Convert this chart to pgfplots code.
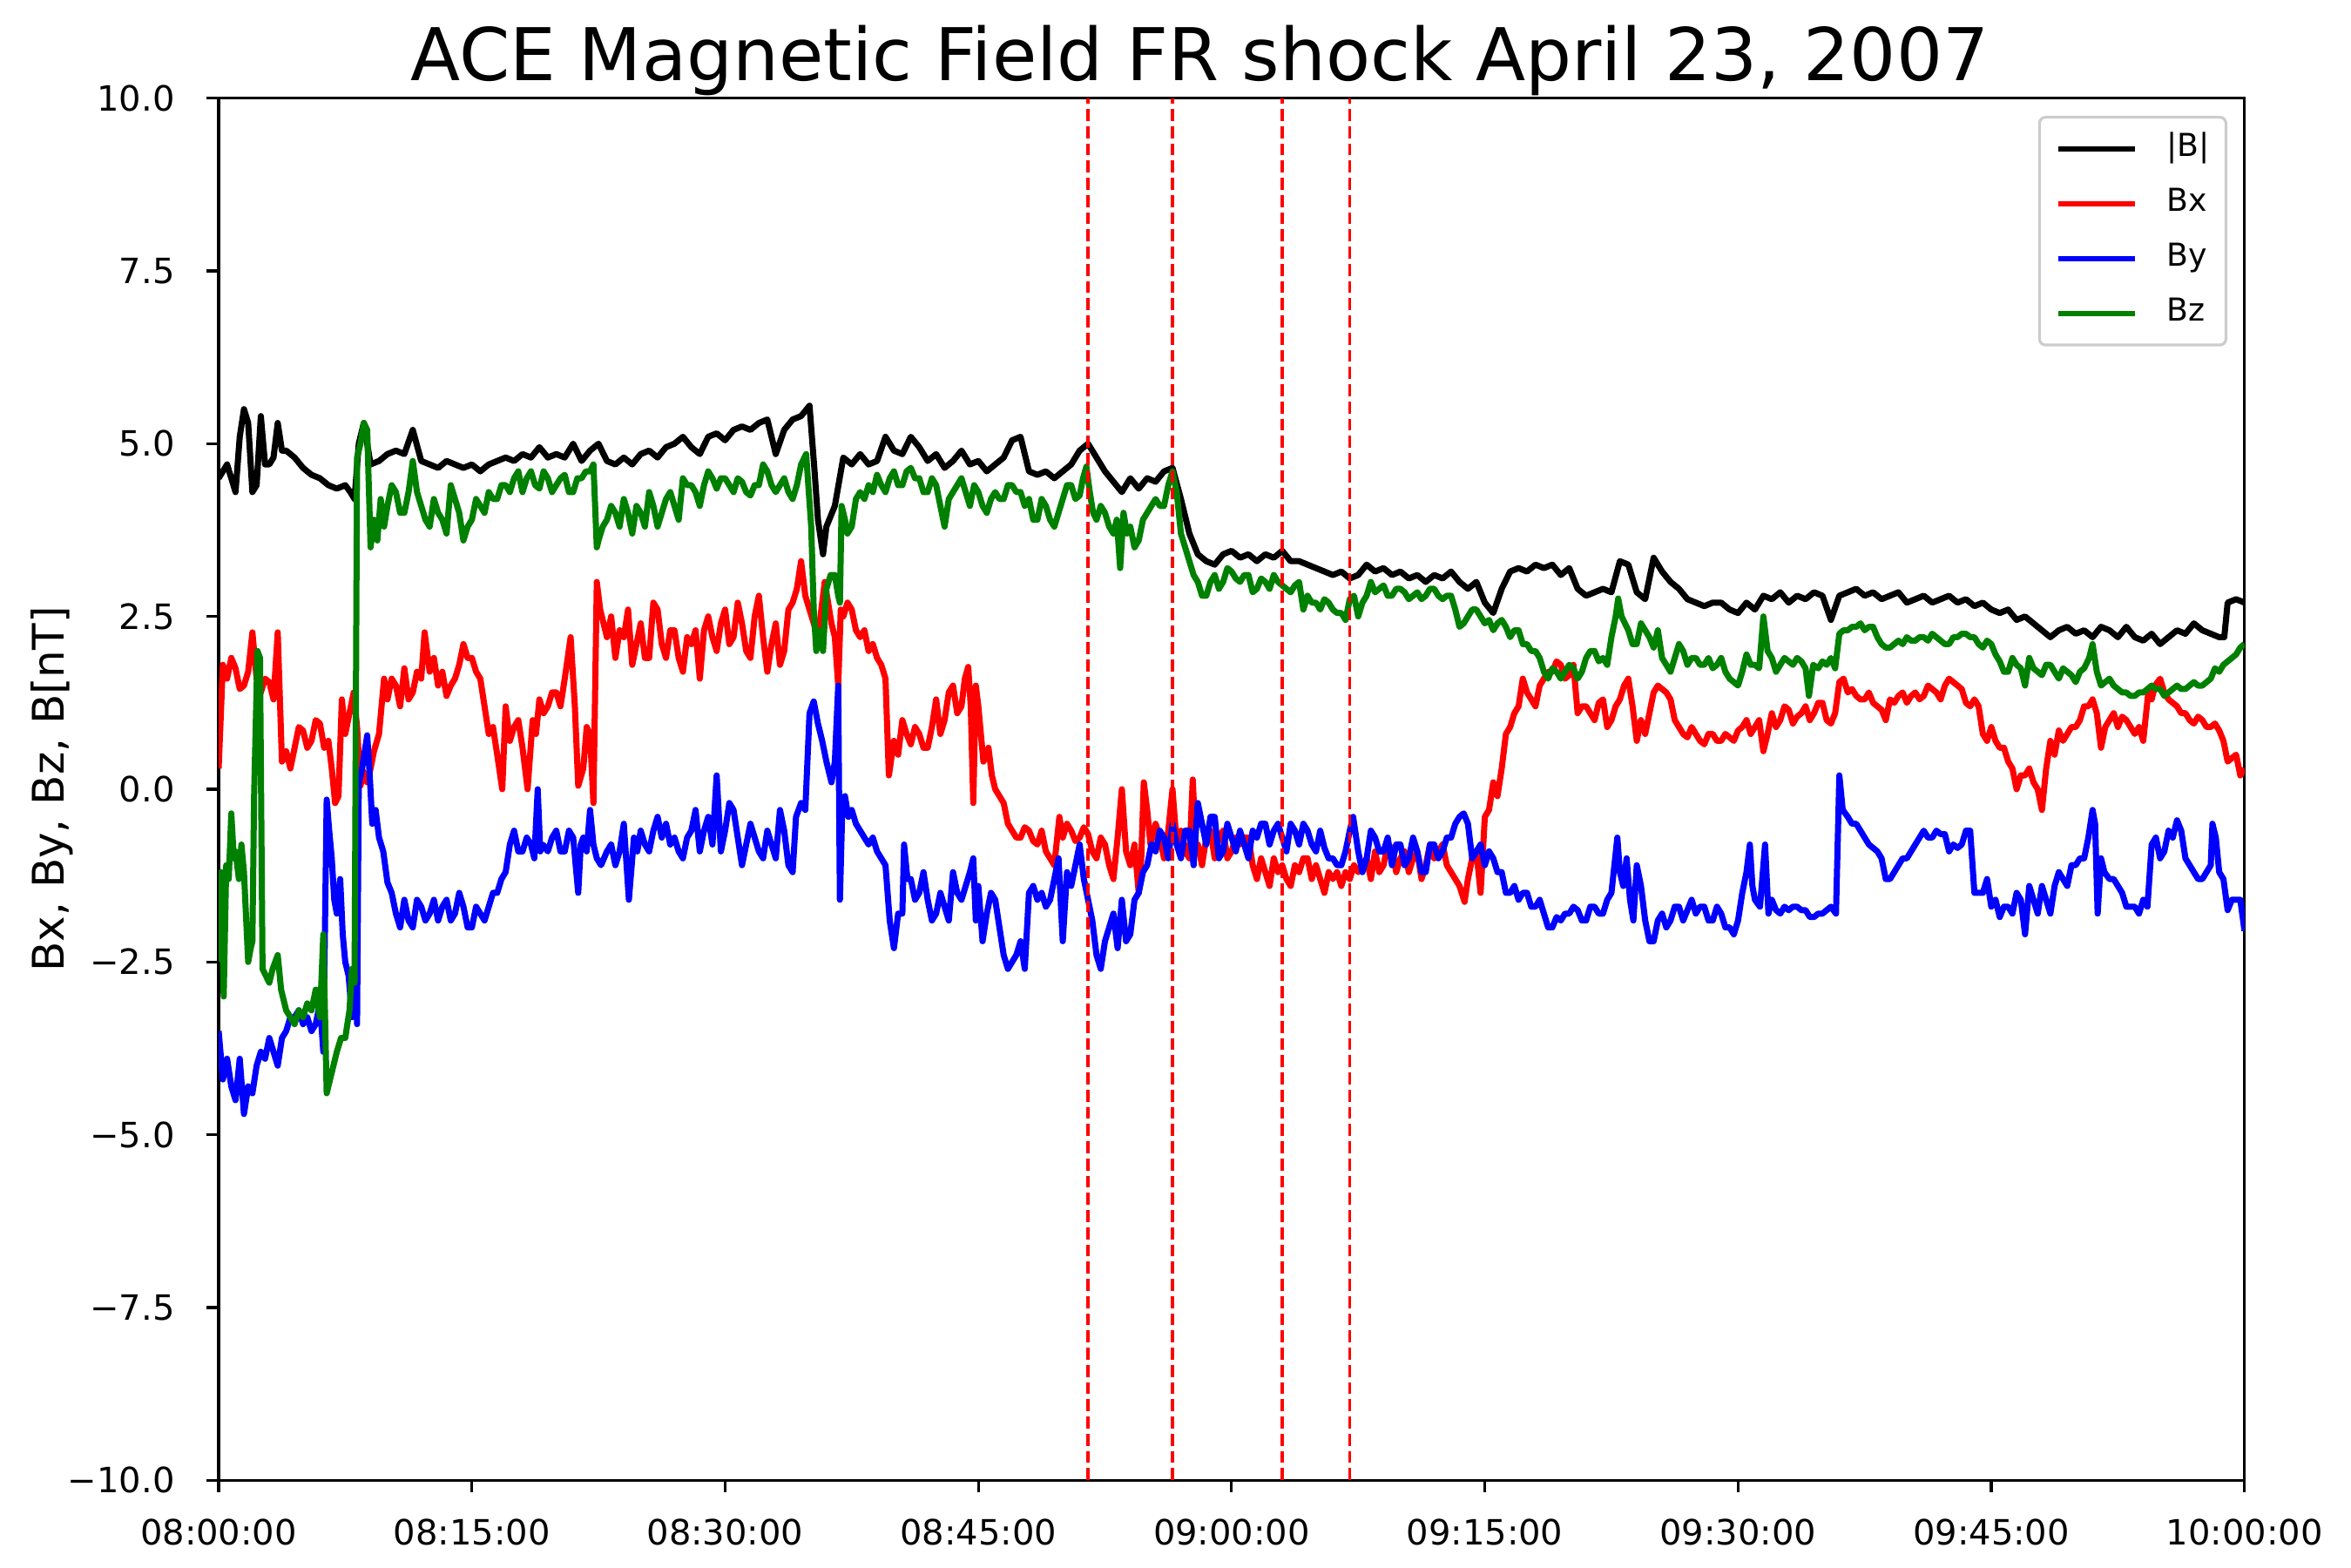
\documentclass[border=0pt]{standalone}
\usepackage{fontspec}
\setmainfont{DejaVu Sans}
\usepackage{pgfplots}
\pgfplotsset{compat=1.18}
\definecolor{mgreen}{HTML}{008000}
\begin{document}
\begin{tikzpicture}
\useasboundingbox (0,0) rectangle (1079.6pt,720pt);
\begin{axis}[name=ax, at={(100.4pt,40.3pt)}, anchor=south west,
  scale only axis, width=930.3pt, height=634.6pt,
  xmin=0, xmax=120, ymin=-10, ymax=10,
  xtick={0,15,30,45,60,75,90,105,120},
  xticklabels={08:00:00,08:15:00,08:30:00,08:45:00,09:00:00,09:15:00,09:30:00,09:45:00,10:00:00},
  ytick={-10,-7.5,-5,-2.5,0,2.5,5,7.5,10},
  yticklabels={−10.0,−7.5,−5.0,−2.5,0.0,2.5,5.0,7.5,10.0},
  tick pos=left, tick align=outside, major tick length=5.6pt,
  every tick/.style={black,line width=1.28pt},
  axis line style={line width=1.28pt},
  ticklabel style={font=\fontsize{16}{19}\selectfont, inner sep=0pt},
  xticklabel style={anchor=base, yshift=-24.3pt},
  yticklabel style={anchor=base east, xshift=-14.4pt, yshift=-5.8pt},
  legend cell align=left,
  legend image code/.code={\draw[#1, line width=2.4pt] (0pt,3.5pt) -- (35.3pt,3.5pt);},
  legend style={at={(1,1)}, anchor=north east, xshift=-7.9pt, yshift=-8.1pt,
    draw=black!20, line width=1.28pt, rounded corners=2.8pt, fill=white,
    font=\fontsize{14.5}{17}\selectfont, inner xsep=7.5pt, inner ysep=7pt,
    row sep=10.2pt, column sep=13.2pt,
    nodes={inner sep=0pt, text height=11pt, text depth=4pt, anchor=base west}},
  every axis plot/.append style={line width=2.8pt, line join=round},
]
\addplot[black] coordinates {(0,4.5)(0.5,4.7)(1,4.3)(1.25,5.1)(1.5,5.5)(1.75,5.3)(2,4.3)(2.25,4.4)(2.5,5.4)(2.75,4.7)(3,4.7)(3.25,4.8)(3.5,5.3)(3.75,4.9)(4,4.9)(4.5,4.8)(5,4.65)(5.5,4.55)(6,4.5)(6.5,4.4)(7,4.35)(7.5,4.4)(7.8,4.3)(8.05,4.2)(8.3,5.0)(8.6,5.3)(9,4.7)(9.5,4.75)(10,4.85)(10.5,4.9)(11,4.85)(11.5,5.2)(12,4.75)(12.5,4.7)(13,4.65)(13.5,4.75)(14,4.7)(14.5,4.65)(15,4.7)(15.5,4.6)(16,4.7)(16.5,4.75)(17,4.8)(17.5,4.75)(18,4.85)(18.5,4.8)(19,4.95)(19.5,4.8)(20,4.85)(20.5,4.8)(21,5.0)(21.5,4.75)(22,4.9)(22.5,5.0)(23,4.75)(23.5,4.7)(24,4.8)(24.5,4.7)(25,4.85)(25.5,4.9)(26,4.8)(26.5,4.95)(27,5.0)(27.5,5.1)(28,4.95)(28.5,4.85)(29,5.1)(29.5,5.15)(30,5.05)(30.5,5.2)(31,5.25)(31.5,5.2)(32,5.3)(32.5,5.35)(33,4.85)(33.5,5.2)(34,5.35)(34.5,5.4)(35,5.55)(35.3,4.6)(35.5,3.9)(35.8,3.4)(36,3.8)(36.5,4.1)(37,4.8)(37.5,4.7)(38,4.85)(38.5,4.7)(39,4.75)(39.5,5.1)(40,4.9)(40.5,4.85)(41,5.1)(41.5,4.95)(42,4.75)(42.5,4.85)(43,4.65)(43.5,4.75)(44,4.9)(44.5,4.7)(45,4.75)(45.5,4.6)(46,4.7)(46.5,4.8)(47,5.05)(47.5,5.1)(48,4.6)(48.5,4.55)(49,4.6)(49.5,4.5)(50,4.6)(50.5,4.7)(51,4.9)(51.5,5.0)(52,4.8)(52.5,4.6)(53,4.45)(53.5,4.3)(54,4.5)(54.5,4.35)(55,4.5)(55.5,4.45)(56,4.6)(56.5,4.65)(57,4.2)(57.5,3.7)(58,3.4)(58.5,3.3)(59,3.25)(59.5,3.4)(60,3.45)(60.5,3.35)(61,3.4)(61.5,3.3)(62,3.4)(62.5,3.35)(63,3.45)(63.5,3.3)(64,3.3)(64.5,3.25)(65,3.2)(65.5,3.15)(66,3.1)(66.5,3.15)(67,3.05)(67.5,3.1)(68,3.25)(68.5,3.15)(69,3.2)(69.5,3.1)(70,3.15)(70.5,3.05)(71,3.1)(71.5,3.0)(72,3.1)(72.5,3.05)(73,3.15)(73.5,3.0)(74,2.9)(74.5,3.0)(75,2.7)(75.5,2.55)(76,2.9)(76.5,3.15)(77,3.2)(77.5,3.15)(78,3.25)(78.5,3.2)(79,3.25)(79.5,3.1)(80,3.2)(80.5,2.9)(81,2.8)(81.5,2.85)(82,2.9)(82.5,2.85)(83,3.3)(83.5,3.25)(84,2.85)(84.5,2.75)(85,3.35)(85.5,3.15)(86,3.0)(86.5,2.9)(87,2.75)(87.5,2.7)(88,2.65)(88.5,2.7)(89,2.7)(89.5,2.6)(90,2.55)(90.5,2.7)(91,2.6)(91.5,2.8)(92,2.75)(92.5,2.85)(93,2.7)(93.5,2.8)(94,2.75)(94.5,2.85)(95,2.8)(95.5,2.45)(96,2.8)(96.5,2.85)(97,2.9)(97.5,2.8)(98,2.85)(98.5,2.75)(99,2.8)(99.5,2.85)(100,2.7)(100.5,2.75)(101,2.8)(101.5,2.7)(102,2.75)(102.5,2.8)(103,2.7)(103.5,2.75)(104,2.65)(104.5,2.7)(105,2.6)(105.5,2.55)(106,2.6)(106.5,2.45)(107,2.5)(107.5,2.4)(108,2.3)(108.5,2.2)(109,2.3)(109.5,2.35)(110,2.25)(110.5,2.3)(111,2.2)(111.5,2.35)(112,2.3)(112.5,2.2)(113,2.35)(113.5,2.2)(114,2.15)(114.5,2.25)(115,2.1)(115.5,2.2)(116,2.3)(116.5,2.25)(117,2.4)(117.5,2.3)(118,2.25)(118.5,2.2)(118.8,2.2)(119,2.7)(119.5,2.75)(120,2.7)};
\addlegendentry{|B|}
\addplot[red] coordinates {(0,0.3)(0.25,1.8)(0.5,1.6)(0.75,1.9)(1,1.75)(1.25,1.45)(1.5,1.5)(1.75,1.7)(2,2.27)(2.25,1.6)(2.5,1.4)(2.75,1.6)(3,1.55)(3.25,1.3)(3.5,2.27)(3.75,0.4)(4,0.55)(4.25,0.3)(4.5,0.6)(4.75,0.9)(5,0.85)(5.25,0.6)(5.5,0.7)(5.75,1.0)(6,0.95)(6.25,0.6)(6.5,0.7)(6.7,0.3)(6.9,-0.2)(7.1,-0.1)(7.3,1.3)(7.5,0.8)(7.75,1.1)(8,1.4)(8.2,0.9)(8.4,0.05)(8.6,0.25)(8.8,0.1)(9.0,0.3)(9.2,0.55)(9.5,0.8)(9.8,1.6)(10,1.3)(10.25,1.6)(10.5,1.5)(10.75,1.2)(11,1.75)(11.25,1.3)(11.5,1.4)(11.75,1.7)(12,1.6)(12.2,2.27)(12.5,1.7)(12.75,1.9)(13,1.5)(13.25,1.7)(13.5,1.35)(13.75,1.5)(14,1.6)(14.25,1.8)(14.5,2.1)(14.75,1.9)(15,1.9)(15.25,1.7)(15.5,1.6)(15.75,1.2)(16,0.8)(16.25,0.9)(16.5,0.5)(16.8,0.0)(17,1.2)(17.25,0.7)(17.5,0.9)(17.75,1.0)(18,0.6)(18.3,0.0)(18.6,1.0)(18.8,0.8)(19,1.3)(19.25,1.1)(19.5,1.2)(19.75,1.4)(20,1.4)(20.25,1.2)(20.5,1.6)(20.85,2.2)(21.1,1.2)(21.3,0.05)(21.6,0.3)(21.8,0.9)(22.0,0.8)(22.2,-0.2)(22.4,3.0)(22.6,2.6)(22.8,2.4)(23,2.2)(23.25,2.5)(23.5,1.9)(23.75,2.3)(24,2.2)(24.25,2.6)(24.5,1.8)(24.75,2.1)(25,2.4)(25.25,1.9)(25.5,1.9)(25.75,2.7)(26,2.6)(26.25,2.1)(26.5,1.9)(26.75,2.3)(27,2.3)(27.25,1.9)(27.5,1.7)(27.75,2.2)(28,2.1)(28.25,2.3)(28.5,1.6)(28.75,2.3)(29,2.5)(29.25,2.2)(29.5,2.0)(29.75,2.4)(30,2.6)(30.25,2.1)(30.5,2.2)(30.75,2.7)(31,2.4)(31.25,2.0)(31.5,1.9)(31.75,2.5)(32,2.8)(32.25,2.2)(32.5,1.7)(32.75,2.1)(33,2.4)(33.25,1.8)(33.5,2.0)(33.75,2.6)(34,2.7)(34.25,2.9)(34.5,3.3)(34.75,2.8)(35,2.6)(35.25,2.4)(35.5,2.2)(35.7,2.6)(35.9,3.0)(36.1,2.7)(36.3,2.4)(36.5,2.2)(36.7,1.5)(36.85,2.6)(37,2.5)(37.25,2.7)(37.5,2.6)(37.75,2.3)(38,2.2)(38.25,2.3)(38.5,2.0)(38.75,2.1)(39,1.9)(39.25,1.8)(39.5,1.6)(39.7,0.2)(40,0.7)(40.25,0.5)(40.5,1.0)(40.75,0.8)(41,0.65)(41.25,0.9)(41.5,0.8)(41.75,0.6)(42,0.6)(42.25,0.9)(42.5,1.3)(42.75,0.8)(43,1.0)(43.25,1.4)(43.5,1.5)(43.75,1.1)(44,1.2)(44.2,1.6)(44.4,1.77)(44.55,1.2)(44.7,-0.2)(44.85,1.5)(45,1.2)(45.3,0.4)(45.6,0.6)(45.8,0.2)(46,0.0)(46.25,-0.1)(46.5,-0.2)(46.75,-0.5)(47,-0.6)(47.25,-0.7)(47.5,-0.7)(47.75,-0.55)(48,-0.6)(48.25,-0.75)(48.5,-0.8)(48.75,-0.6)(49,-0.9)(49.25,-1.0)(49.5,-1.1)(49.8,-0.4)(50,-0.7)(50.25,-0.5)(50.5,-0.6)(50.75,-0.75)(51,-0.7)(51.25,-0.55)(51.5,-0.65)(51.75,-0.9)(52,-1.0)(52.25,-0.7)(52.5,-0.8)(52.75,-1.1)(53,-1.3)(53.25,-0.7)(53.5,0.0)(53.75,-0.9)(54,-1.1)(54.25,-0.8)(54.5,-1.5)(54.65,-1.0)(54.8,0.1)(55,-0.3)(55.2,-0.8)(55.5,-0.5)(55.75,-0.7)(56,-1.0)(56.25,-0.6)(56.5,0.0)(56.75,-0.8)(57,-0.6)(57.25,-0.9)(57.5,-1.0)(57.7,0.14)(57.9,-0.9)(58,-0.8)(58.25,-1.1)(58.5,-0.7)(58.75,-0.6)(59,-1.0)(59.25,-0.7)(59.5,-0.6)(59.75,-1.0)(60,-0.9)(60.25,-0.7)(60.5,-0.8)(60.75,-0.7)(61,-0.7)(61.25,-1.1)(61.5,-1.3)(61.75,-1.0)(62,-1.2)(62.25,-1.4)(62.5,-1.0)(62.75,-1.2)(63,-1.1)(63.25,-1.3)(63.5,-1.4)(63.75,-1.1)(64,-1.2)(64.25,-1.0)(64.5,-1.0)(64.75,-1.3)(65,-1.1)(65.25,-1.3)(65.5,-1.5)(65.75,-1.2)(66,-1.3)(66.25,-1.2)(66.5,-1.4)(66.75,-1.2)(67,-1.3)(67.25,-1.1)(67.5,-1.2)(68,-1.0)(68.25,-1.3)(68.5,-0.9)(68.75,-1.2)(69,-1.1)(69.25,-0.8)(69.5,-0.85)(69.75,-1.2)(70,-1.0)(70.25,-0.9)(70.5,-1.2)(70.75,-1.0)(71,-0.9)(71.25,-1.3)(71.5,-1.1)(71.75,-0.8)(72,-1.0)(72.25,-0.9)(72.5,-0.8)(72.75,-1.1)(73,-1.2)(73.25,-1.3)(73.5,-1.4)(73.8,-1.63)(74,-1.3)(74.25,-1.0)(74.5,-0.9)(74.75,-1.5)(75,-0.4)(75.25,-0.3)(75.5,0.1)(75.75,-0.1)(76,0.3)(76.25,0.8)(76.5,0.9)(76.75,1.1)(77,1.2)(77.25,1.6)(77.5,1.4)(77.75,1.3)(78,1.2)(78.25,1.5)(78.5,1.6)(78.75,1.7)(79,1.7)(79.25,1.85)(79.5,1.8)(79.75,1.6)(80,1.65)(80.25,1.8)(80.5,1.1)(80.75,1.2)(81,1.2)(81.25,1.1)(81.5,1.0)(81.75,1.25)(82,1.3)(82.25,0.9)(82.5,1.0)(82.75,1.2)(83,1.3)(83.25,1.5)(83.5,1.6)(83.75,1.2)(84,0.7)(84.25,1.0)(84.5,0.8)(84.75,1.1)(85,1.4)(85.25,1.5)(85.5,1.45)(85.75,1.4)(86,1.3)(86.25,1.0)(86.5,0.9)(86.75,0.8)(87,0.75)(87.25,0.9)(87.5,0.8)(87.75,0.7)(88,0.65)(88.25,0.8)(88.5,0.8)(88.75,0.7)(89,0.7)(89.25,0.8)(89.5,0.75)(89.75,0.7)(90,0.85)(90.25,0.9)(90.5,1.0)(90.75,0.8)(91,0.9)(91.25,1.0)(91.5,0.55)(91.75,0.8)(92,1.1)(92.25,0.9)(92.5,1.0)(92.75,1.2)(93,1.15)(93.25,0.95)(93.5,1.05)(93.75,1.1)(94,1.2)(94.25,1.0)(94.5,1.1)(94.75,1.25)(95,1.25)(95.25,1.0)(95.5,0.95)(95.75,1.1)(96,1.55)(96.25,1.6)(96.5,1.4)(96.75,1.45)(97,1.35)(97.25,1.3)(97.5,1.3)(97.75,1.4)(98,1.25)(98.25,1.2)(98.5,1.15)(98.75,1.0)(99,1.3)(99.25,1.25)(99.5,1.35)(99.75,1.4)(100,1.25)(100.25,1.35)(100.5,1.4)(100.75,1.3)(101,1.35)(101.25,1.5)(101.5,1.45)(101.75,1.4)(102,1.3)(102.25,1.5)(102.5,1.6)(102.75,1.55)(103,1.5)(103.25,1.45)(103.5,1.25)(103.75,1.2)(104,1.3)(104.25,1.2)(104.5,0.8)(104.75,0.7)(105,0.9)(105.25,0.7)(105.5,0.6)(105.75,0.6)(106,0.4)(106.25,0.3)(106.5,0.0)(106.75,0.2)(107,0.2)(107.25,0.3)(107.5,0.1)(107.75,0.0)(108,-0.3)(108.25,0.3)(108.5,0.7)(108.75,0.5)(109,0.85)(109.25,0.7)(109.5,0.8)(109.75,0.9)(110,0.9)(110.25,1.0)(110.5,1.2)(110.75,1.2)(111,1.3)(111.25,1.1)(111.5,0.6)(111.75,0.9)(112,1.0)(112.25,1.1)(112.5,0.9)(112.75,1.05)(113,1.0)(113.25,0.9)(113.5,0.8)(113.75,0.9)(114,0.7)(114.3,1.4)(114.5,1.3)(114.7,1.5)(115,1.6)(115.25,1.4)(115.5,1.3)(115.75,1.25)(116,1.2)(116.25,1.1)(116.5,1.1)(116.75,1.0)(117,0.95)(117.25,1.05)(117.5,1.0)(117.75,0.9)(118,0.9)(118.25,0.95)(118.5,0.85)(118.75,0.7)(119,0.4)(119.25,0.45)(119.5,0.5)(119.75,0.2)(120,0.3)};
\addlegendentry{Bx}
\addplot[blue] coordinates {(0,-3.5)(0.25,-4.2)(0.5,-3.9)(0.75,-4.3)(1,-4.5)(1.25,-3.9)(1.5,-4.7)(1.75,-4.3)(2,-4.4)(2.25,-4.0)(2.5,-3.8)(2.75,-3.9)(3,-3.6)(3.25,-3.8)(3.5,-4.0)(3.75,-3.6)(4,-3.5)(4.25,-3.3)(4.5,-3.3)(4.75,-3.2)(5,-3.4)(5.25,-3.3)(5.5,-3.5)(5.75,-3.4)(6,-3.1)(6.2,-3.8)(6.4,-0.15)(6.55,-0.6)(6.7,-1.0)(6.85,-1.6)(7.0,-1.8)(7.2,-1.3)(7.35,-2.1)(7.5,-2.5)(7.7,-2.7)(7.9,-3.3)(8.1,-2.7)(8.2,-3.4)(8.3,0.07)(8.5,0.3)(8.8,0.78)(8.95,0.2)(9.1,-0.5)(9.3,-0.3)(9.5,-0.7)(9.75,-0.9)(10.0,-1.35)(10.25,-1.5)(10.5,-1.8)(10.75,-2.0)(11,-1.6)(11.25,-1.9)(11.5,-2.0)(11.75,-1.6)(12,-1.7)(12.25,-1.9)(12.5,-1.8)(12.75,-1.6)(13,-1.9)(13.25,-1.7)(13.5,-1.6)(13.75,-1.9)(14,-1.8)(14.25,-1.5)(14.5,-1.7)(14.75,-2.0)(15,-2.0)(15.25,-1.7)(15.5,-1.8)(15.75,-1.9)(16,-1.7)(16.25,-1.5)(16.5,-1.5)(16.75,-1.3)(17,-1.2)(17.25,-0.8)(17.5,-0.6)(17.75,-0.9)(18,-0.9)(18.25,-0.7)(18.5,-0.8)(18.7,-1.0)(18.9,0.0)(19.05,-0.9)(19.2,-0.8)(19.5,-0.9)(19.75,-0.7)(20,-0.6)(20.25,-0.9)(20.5,-0.9)(20.75,-0.6)(21,-0.7)(21.3,-1.5)(21.45,-0.8)(21.6,-0.7)(21.8,-0.9)(22,-0.3)(22.2,-0.8)(22.4,-1.0)(22.65,-1.1)(23,-0.9)(23.25,-0.8)(23.5,-1.1)(23.75,-0.9)(24,-0.5)(24.3,-1.6)(24.6,-0.7)(24.8,-0.9)(25,-0.6)(25.25,-0.8)(25.5,-0.9)(25.75,-0.6)(26,-0.4)(26.25,-0.7)(26.5,-0.5)(26.75,-0.8)(27,-0.7)(27.25,-0.9)(27.5,-1.0)(27.75,-0.7)(28,-0.6)(28.25,-0.3)(28.5,-0.9)(28.75,-0.6)(29,-0.4)(29.25,-0.8)(29.5,0.2)(29.75,-0.9)(30,-0.6)(30.25,-0.2)(30.5,-0.3)(30.75,-0.7)(31,-1.1)(31.25,-0.8)(31.5,-0.5)(31.75,-0.7)(32,-0.9)(32.25,-1.0)(32.5,-0.6)(32.75,-0.8)(33,-1.0)(33.25,-0.3)(33.5,-0.6)(33.75,-1.1)(34,-1.2)(34.2,-0.4)(34.5,-0.2)(34.75,-0.3)(35,1.1)(35.25,1.27)(35.5,0.95)(35.75,0.7)(36,0.4)(36.3,0.1)(36.5,0.4)(36.7,1.5)(36.8,-1.6)(36.95,-0.2)(37.1,-0.1)(37.3,-0.4)(37.5,-0.3)(37.75,-0.5)(38,-0.6)(38.25,-0.7)(38.5,-0.8)(38.75,-0.7)(39,-0.9)(39.25,-1.0)(39.5,-1.1)(39.75,-1.9)(40,-2.3)(40.25,-1.8)(40.5,-1.8)(40.6,-0.8)(40.8,-1.3)(41,-1.3)(41.25,-1.6)(41.5,-1.5)(41.75,-1.2)(42,-1.6)(42.25,-1.9)(42.5,-1.8)(42.75,-1.5)(43,-1.7)(43.25,-1.9)(43.5,-1.2)(43.75,-1.5)(44,-1.6)(44.25,-1.4)(44.5,-1.2)(44.7,-1.0)(44.85,-1.9)(45,-1.4)(45.25,-2.2)(45.5,-1.8)(45.75,-1.5)(46,-1.6)(46.25,-2.0)(46.5,-2.4)(46.75,-2.6)(47,-2.5)(47.25,-2.4)(47.5,-2.2)(47.75,-2.6)(48,-1.5)(48.25,-1.4)(48.5,-1.6)(48.75,-1.5)(49,-1.7)(49.25,-1.6)(49.5,-1.3)(49.75,-1.0)(50,-2.2)(50.25,-1.2)(50.5,-1.4)(50.75,-1.1)(51,-0.8)(51.25,-1.3)(51.5,-1.6)(51.75,-1.9)(52,-2.4)(52.25,-2.6)(52.5,-2.2)(52.75,-2.0)(53,-1.8)(53.25,-2.3)(53.5,-1.6)(53.75,-2.2)(54,-2.1)(54.25,-1.6)(54.5,-1.5)(54.75,-1.2)(55,-1.1)(55.25,-0.8)(55.5,-0.9)(55.75,-0.6)(56,-0.7)(56.25,-1.0)(56.5,-0.5)(56.75,-0.8)(57,-1.0)(57.25,-0.6)(57.5,-0.6)(57.75,-1.1)(58,-0.2)(58.25,-0.5)(58.5,-0.8)(58.75,-0.4)(59,-0.4)(59.25,-1.0)(59.5,-0.9)(59.75,-0.5)(60,-0.7)(60.25,-0.9)(60.5,-0.6)(60.75,-0.8)(61,-1.0)(61.25,-0.6)(61.5,-0.7)(61.75,-0.5)(62,-0.5)(62.25,-0.8)(62.5,-0.6)(62.75,-0.5)(63,-0.7)(63.25,-0.9)(63.5,-0.5)(63.75,-0.6)(64,-0.8)(64.25,-0.5)(64.5,-0.6)(64.75,-0.8)(65,-0.9)(65.25,-0.6)(65.5,-0.85)(65.75,-1.0)(66,-1.0)(66.25,-1.1)(66.5,-1.1)(66.75,-0.9)(67,-0.6)(67.2,-0.4)(67.5,-0.9)(67.75,-1.2)(68,-1.0)(68.25,-0.6)(68.5,-0.7)(68.75,-0.9)(69,-0.9)(69.25,-0.7)(69.5,-1.1)(69.75,-0.8)(70,-0.8)(70.25,-1.1)(70.5,-1.0)(70.75,-0.7)(71,-0.9)(71.25,-1.2)(71.5,-1.2)(71.75,-0.8)(72,-0.8)(72.25,-1.0)(72.5,-0.9)(72.75,-0.7)(73,-0.7)(73.25,-0.5)(73.5,-0.4)(73.75,-0.35)(74,-0.5)(74.25,-1.0)(74.5,-0.9)(74.75,-0.8)(75,-1.1)(75.25,-0.9)(75.5,-1.0)(75.75,-1.2)(76,-1.2)(76.25,-1.5)(76.5,-1.5)(76.75,-1.4)(77,-1.6)(77.25,-1.5)(77.5,-1.5)(77.75,-1.7)(78,-1.7)(78.25,-1.6)(78.5,-1.8)(78.75,-2.0)(79,-2.0)(79.25,-1.85)(79.5,-1.9)(79.75,-1.8)(80,-1.8)(80.25,-1.7)(80.5,-1.75)(80.75,-1.9)(81,-1.9)(81.25,-1.7)(81.5,-1.7)(81.75,-1.8)(82,-1.8)(82.25,-1.6)(82.5,-1.5)(82.85,-0.7)(83.0,-1.2)(83.2,-1.4)(83.4,-1.0)(83.6,-1.6)(83.8,-1.9)(84.0,-1.1)(84.25,-1.4)(84.5,-1.9)(84.75,-2.2)(85,-2.2)(85.25,-1.9)(85.5,-1.8)(85.75,-2.0)(86,-1.9)(86.25,-1.7)(86.5,-1.7)(86.75,-1.9)(87,-1.75)(87.25,-1.6)(87.5,-1.8)(87.75,-1.7)(88,-1.7)(88.25,-1.9)(88.5,-1.9)(88.75,-1.7)(89,-1.8)(89.25,-2.0)(89.5,-2.0)(89.75,-2.1)(90,-1.9)(90.25,-1.5)(90.5,-1.2)(90.7,-0.8)(90.85,-1.4)(91,-1.6)(91.3,-1.7)(91.6,-0.8)(91.8,-1.8)(92,-1.6)(92.25,-1.75)(92.5,-1.8)(92.75,-1.7)(93,-1.75)(93.25,-1.7)(93.5,-1.7)(93.75,-1.75)(94,-1.75)(94.25,-1.85)(94.5,-1.85)(94.75,-1.8)(95,-1.8)(95.25,-1.75)(95.5,-1.7)(95.8,-1.8)(96.0,0.2)(96.2,-0.3)(96.5,-0.4)(96.75,-0.5)(97,-0.5)(97.25,-0.6)(97.5,-0.7)(97.75,-0.8)(98,-0.85)(98.25,-0.9)(98.5,-1.0)(98.75,-1.3)(99,-1.3)(99.25,-1.2)(99.5,-1.1)(99.75,-1.0)(100,-1.0)(100.25,-0.9)(100.5,-0.8)(100.75,-0.7)(101,-0.6)(101.25,-0.7)(101.5,-0.7)(101.75,-0.6)(102,-0.65)(102.25,-0.65)(102.5,-0.9)(102.75,-0.8)(103,-0.85)(103.25,-0.8)(103.5,-0.6)(103.75,-0.6)(104,-1.5)(104.25,-1.5)(104.5,-1.5)(104.75,-1.3)(105,-1.7)(105.25,-1.6)(105.5,-1.85)(105.75,-1.7)(106,-1.7)(106.25,-1.8)(106.5,-1.5)(106.75,-1.6)(107,-2.1)(107.25,-1.4)(107.5,-1.6)(107.75,-1.8)(108,-1.4)(108.25,-1.6)(108.5,-1.8)(108.75,-1.4)(109,-1.2)(109.25,-1.3)(109.5,-1.4)(109.75,-1.1)(110,-1.1)(110.25,-1.0)(110.5,-1.0)(110.75,-0.7)(111,-0.3)(111.15,-0.5)(111.3,-1.8)(111.5,-1.0)(111.7,-1.2)(112,-1.3)(112.25,-1.3)(112.5,-1.4)(112.75,-1.5)(113,-1.7)(113.25,-1.7)(113.5,-1.7)(113.75,-1.8)(114,-1.6)(114.25,-1.7)(114.5,-0.8)(114.75,-0.7)(115,-1.0)(115.25,-0.9)(115.5,-0.6)(115.75,-0.7)(116,-0.45)(116.25,-0.6)(116.5,-1.0)(116.75,-1.1)(117,-1.2)(117.25,-1.3)(117.5,-1.3)(117.75,-1.2)(118,-1.1)(118.1,-0.5)(118.3,-0.7)(118.5,-1.2)(118.75,-1.3)(119,-1.75)(119.25,-1.6)(119.5,-1.6)(119.75,-1.6)(120,-2.05)};
\addlegendentry{By}
\addplot[mgreen] coordinates {(0,-2.5)(0.15,-1.2)(0.3,-3.0)(0.45,-1.1)(0.6,-1.3)(0.75,-0.35)(0.9,-1.0)(1.0,-0.9)(1.2,-1.3)(1.35,-0.8)(1.5,-1.2)(1.75,-2.5)(1.9,-2.3)(2.0,-2.2)(2.1,-0.1)(2.3,2.0)(2.45,1.9)(2.6,-2.6)(2.8,-2.7)(3.0,-2.8)(3.2,-2.6)(3.5,-2.4)(3.7,-2.9)(4.0,-3.2)(4.25,-3.3)(4.5,-3.4)(4.75,-3.2)(5.0,-3.3)(5.25,-3.1)(5.5,-3.2)(5.75,-2.9)(6.0,-3.3)(6.2,-2.1)(6.4,-4.4)(6.6,-4.2)(6.8,-4.0)(7.0,-3.8)(7.25,-3.6)(7.5,-3.6)(7.75,-3.2)(7.9,-2.6)(8.05,-2.8)(8.2,4.8)(8.4,5.0)(8.6,5.3)(8.8,5.2)(9.0,3.5)(9.2,3.9)(9.4,3.6)(9.6,4.2)(9.8,3.8)(10.0,4.1)(10.25,4.4)(10.5,4.3)(10.75,4.0)(11.0,4.0)(11.25,4.3)(11.5,4.75)(11.75,4.3)(12.0,4.1)(12.25,3.9)(12.5,3.8)(12.75,4.2)(13.0,4.0)(13.25,3.9)(13.5,3.7)(13.75,4.4)(14.0,4.2)(14.25,4.0)(14.5,3.6)(14.75,3.8)(15.0,3.9)(15.25,4.2)(15.5,4.1)(15.75,4.0)(16.0,4.3)(16.25,4.2)(16.5,4.2)(16.75,4.4)(17,4.4)(17.25,4.3)(17.5,4.5)(17.75,4.6)(18,4.3)(18.25,4.5)(18.5,4.6)(18.75,4.4)(19,4.35)(19.25,4.6)(19.5,4.5)(19.75,4.3)(20,4.4)(20.25,4.5)(20.5,4.55)(20.75,4.3)(21,4.3)(21.25,4.5)(21.5,4.5)(21.75,4.6)(22,4.6)(22.2,4.7)(22.4,3.5)(22.5,3.6)(22.75,3.8)(23,3.9)(23.25,4.1)(23.5,4.0)(23.75,3.8)(24,4.2)(24.25,4.0)(24.5,3.7)(24.75,4.1)(25,4.0)(25.25,3.8)(25.5,4.3)(25.75,4.1)(26,3.8)(26.25,4.0)(26.5,4.2)(26.75,4.3)(27,4.1)(27.25,3.9)(27.5,4.5)(27.75,4.4)(28,4.4)(28.25,4.3)(28.5,4.1)(28.75,4.4)(29,4.6)(29.25,4.5)(29.5,4.35)(29.75,4.5)(30,4.5)(30.25,4.4)(30.5,4.3)(30.75,4.5)(31,4.45)(31.25,4.3)(31.5,4.25)(31.75,4.4)(32,4.4)(32.25,4.7)(32.5,4.6)(32.75,4.4)(33,4.3)(33.25,4.4)(33.5,4.5)(33.75,4.3)(34,4.2)(34.25,4.4)(34.5,4.7)(34.8,4.85)(35.1,3.8)(35.25,2.6)(35.4,2.0)(35.6,2.3)(35.8,2.0)(36.0,2.9)(36.25,3.1)(36.5,3.1)(36.7,2.8)(36.8,2.7)(36.9,4.1)(37.1,3.9)(37.25,3.7)(37.5,3.8)(37.75,4.2)(38,4.3)(38.25,4.2)(38.5,4.4)(38.75,4.3)(39,4.55)(39.25,4.4)(39.5,4.3)(39.75,4.5)(40,4.6)(40.25,4.4)(40.5,4.4)(40.75,4.6)(41,4.65)(41.25,4.5)(41.5,4.5)(41.75,4.3)(42,4.3)(42.25,4.5)(42.5,4.4)(42.75,4.1)(43,3.8)(43.25,4.2)(43.5,4.3)(43.75,4.4)(44,4.5)(44.25,4.3)(44.5,4.1)(44.75,4.4)(45,4.3)(45.25,4.1)(45.5,4.0)(45.75,4.2)(46,4.3)(46.25,4.2)(46.5,4.2)(46.75,4.4)(47,4.4)(47.25,4.3)(47.5,4.3)(47.75,4.1)(48,4.2)(48.25,3.9)(48.5,3.9)(48.75,4.2)(49,4.1)(49.25,3.9)(49.5,3.8)(49.75,4.0)(50,4.2)(50.25,4.4)(50.5,4.4)(50.75,4.2)(51,4.25)(51.2,4.5)(51.4,4.67)(51.6,4.3)(51.8,4.0)(52,3.9)(52.25,4.1)(52.5,4.0)(52.75,3.8)(53,3.7)(53.2,3.9)(53.4,3.2)(53.6,4.0)(53.8,3.7)(54,3.8)(54.25,3.5)(54.5,3.6)(54.75,3.9)(55,4.0)(55.25,4.1)(55.5,4.2)(55.75,4.1)(56,4.1)(56.25,4.4)(56.5,4.6)(56.75,4.3)(57,3.7)(57.25,3.5)(57.5,3.3)(57.75,3.1)(58,3.0)(58.25,2.8)(58.5,2.8)(58.75,3.0)(59,3.1)(59.25,2.9)(59.5,3.0)(59.75,3.2)(60,3.15)(60.25,3.05)(60.5,3.0)(60.75,3.1)(61,3.1)(61.25,2.85)(61.5,2.9)(61.75,3.05)(62,3.0)(62.25,2.9)(62.5,3.1)(62.75,3.0)(63,2.95)(63.25,2.9)(63.5,2.85)(63.75,2.95)(64,3.0)(64.25,2.6)(64.5,2.8)(64.75,2.7)(65,2.7)(65.25,2.6)(65.5,2.75)(65.75,2.7)(66,2.6)(66.25,2.55)(66.5,2.55)(66.75,2.45)(67,2.75)(67.25,2.8)(67.5,2.5)(67.75,2.7)(68,2.8)(68.25,3.0)(68.5,2.85)(68.75,2.9)(69,2.95)(69.25,2.8)(69.5,2.8)(69.75,2.9)(70,2.9)(70.25,2.85)(70.5,2.75)(70.75,2.8)(71,2.85)(71.25,2.75)(71.5,2.8)(71.75,2.9)(72,2.9)(72.25,2.8)(72.5,2.75)(72.75,2.8)(73,2.8)(73.25,2.6)(73.5,2.35)(73.75,2.4)(74,2.5)(74.25,2.6)(74.5,2.6)(74.75,2.5)(75,2.4)(75.25,2.45)(75.5,2.3)(75.75,2.4)(76,2.45)(76.25,2.35)(76.5,2.2)(76.75,2.3)(77,2.3)(77.25,2.1)(77.5,2.1)(77.75,2.0)(78,2.0)(78.25,1.9)(78.5,1.7)(78.75,1.6)(79,1.75)(79.25,1.7)(79.5,1.6)(79.75,1.7)(80,1.8)(80.25,1.75)(80.5,1.6)(80.75,1.7)(81,1.9)(81.25,2.0)(81.5,2.0)(81.75,1.85)(82,1.9)(82.25,1.8)(82.5,2.2)(82.75,2.5)(82.9,2.76)(83.1,2.5)(83.3,2.4)(83.5,2.3)(83.75,2.1)(84,2.1)(84.25,2.4)(84.5,2.3)(84.75,2.2)(85,2.05)(85.25,2.3)(85.5,1.9)(85.75,1.8)(86,1.7)(86.25,1.9)(86.5,2.1)(86.75,2.0)(87,1.8)(87.25,1.9)(87.5,1.9)(87.75,1.8)(88,1.8)(88.25,1.9)(88.5,1.75)(88.75,1.8)(89,1.9)(89.25,1.7)(89.5,1.6)(89.75,1.55)(90,1.5)(90.25,1.7)(90.5,1.95)(90.75,1.8)(91,1.8)(91.25,1.75)(91.5,2.5)(91.75,2.0)(92,1.9)(92.25,1.7)(92.5,1.8)(92.75,1.9)(93,1.85)(93.25,1.8)(93.5,1.9)(93.75,1.85)(94,1.75)(94.2,1.35)(94.45,1.8)(94.75,1.75)(95,1.85)(95.25,1.8)(95.5,1.9)(95.75,1.75)(96,2.25)(96.25,2.3)(96.5,2.3)(96.75,2.35)(97,2.35)(97.25,2.4)(97.5,2.3)(97.75,2.35)(98,2.35)(98.25,2.2)(98.5,2.1)(98.75,2.05)(99,2.05)(99.25,2.1)(99.5,2.15)(99.75,2.1)(100,2.2)(100.25,2.15)(100.5,2.15)(100.75,2.2)(101,2.2)(101.25,2.15)(101.5,2.25)(101.75,2.2)(102,2.15)(102.25,2.1)(102.5,2.1)(102.75,2.2)(103,2.2)(103.25,2.25)(103.5,2.25)(103.75,2.2)(104,2.2)(104.25,2.1)(104.5,2.05)(104.75,2.15)(105,2.1)(105.25,1.95)(105.5,1.85)(105.75,1.7)(106,1.7)(106.25,1.9)(106.5,1.8)(106.75,1.75)(107,1.5)(107.25,1.9)(107.5,1.75)(107.75,1.7)(108,1.65)(108.25,1.8)(108.5,1.8)(108.75,1.7)(109,1.6)(109.25,1.75)(109.5,1.7)(109.75,1.65)(110,1.55)(110.25,1.7)(110.5,1.75)(110.8,1.9)(111.0,2.1)(111.25,1.7)(111.5,1.5)(111.75,1.55)(112,1.6)(112.25,1.5)(112.5,1.45)(112.75,1.4)(113,1.4)(113.25,1.35)(113.5,1.35)(113.75,1.4)(114,1.4)(114.25,1.45)(114.5,1.5)(114.75,1.45)(115,1.45)(115.25,1.35)(115.5,1.4)(115.75,1.45)(116,1.5)(116.25,1.45)(116.5,1.45)(116.75,1.5)(117,1.55)(117.25,1.5)(117.5,1.5)(117.75,1.55)(118,1.6)(118.25,1.75)(118.5,1.7)(118.75,1.8)(119,1.85)(119.25,1.9)(119.5,1.95)(119.75,2.05)(120,2.1)};
\addlegendentry{Bz}
\addplot[red, line width=1.5pt, dash pattern=on 5.5pt off 2.4pt, forget plot] coordinates {(51.5,-10)(51.5,10)};
\addplot[red, line width=1.5pt, dash pattern=on 5.5pt off 2.4pt, forget plot] coordinates {(56.5,-10)(56.5,10)};
\addplot[red, line width=1.5pt, dash pattern=on 5.5pt off 2.4pt, forget plot] coordinates {(63.0,-10)(63.0,10)};
\addplot[red, line width=1.5pt, dash pattern=on 5.5pt off 2.4pt, forget plot] coordinates {(67.0,-10)(67.0,10)};
\end{axis}
\node[font=\fontsize{33.4}{40}\selectfont, anchor=base] at (551pt,682.8pt) {ACE Magnetic Field FR shock April 23, 2007};
\node[rotate=90, anchor=base, font=\fontsize{20}{24}\selectfont] at (29.5pt,357.6pt) {Bx, By, Bz, B[nT]};
\end{tikzpicture}
\end{document}
